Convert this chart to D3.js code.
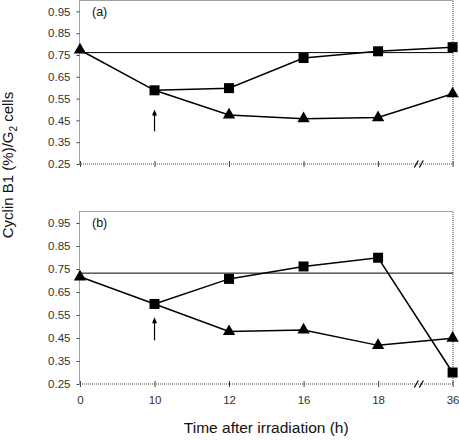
<!DOCTYPE html>
<html><head><meta charset="utf-8">
<script src="https://cdn.jsdelivr.net/npm/d3@7"></script>
<style>body{margin:0;background:#fff}svg{display:block}</style>
</head><body>
<script>
const categories = ["0","10","12","16","18","36"];
const yTicks = [0.25,0.35,0.45,0.55,0.65,0.75,0.85,0.95];
// panel (a)
const aSquare = [null,0.588,0.598,0.736,0.767,0.786];
const aTriangle = [0.773,0.588,0.475,0.458,0.463,0.572];
const aControl = 0.761;
const aArrow = [0.40,0.50];
// panel (b)
const bSquare = [null,0.598,0.707,0.761,0.799,0.300];
const bTriangle = [0.716,0.598,0.478,0.485,0.418,0.449];
const bControl = 0.732;
const bArrow = [0.44,0.54];

const W=459,H=440;
const svg=d3.select("body").append("svg").attr("width",W).attr("height",H);
const font="Liberation Sans, Arial, sans-serif";
const x=d3.scalePoint().domain(categories).range([80,452.6]);
const left=79.5,right=453;

function panel(top,bottom,label,sq,tri,ctrl,arrow,showX){
  const y=d3.scaleLinear().domain([0.25,1.0]).range([bottom,top]);
  const g=svg.append("g");
  g.append("rect").attr("x",left).attr("y",top).attr("width",right-left).attr("height",bottom-top)
    .attr("fill","none").attr("stroke","#444").attr("stroke-width",1).attr("stroke-dasharray","1,1");
  const ya=g.append("g").attr("transform",`translate(${left},0)`)
    .call(d3.axisLeft(y).tickValues(yTicks).tickFormat(d3.format(".2f")).tickSize(3).tickPadding(6));
  ya.select(".domain").remove();
  ya.selectAll("line").attr("stroke","#444");
  ya.selectAll("text").attr("font-family",font).attr("font-size",11.5).attr("fill","#333");
  const xa=g.append("g").attr("transform",`translate(0,${bottom})`)
    .call(d3.axisBottom(x).tickSize(3).tickPadding(9));
  xa.select(".domain").remove();
  xa.selectAll(".tick line").attr("y1",-3).attr("y2",3).attr("stroke","#444");
  xa.selectAll("text").attr("font-family",font).attr("font-size",11.5).attr("fill","#333");
  if(!showX) xa.selectAll("text").remove();
  const bx=(x("18")+x("36"))/2+4;
  [-3,2].forEach(dx=>{
    g.append("line").attr("x1",bx+dx-2).attr("y1",bottom+3.5).attr("x2",bx+dx+2).attr("y2",bottom-3.5)
     .attr("stroke","#000").attr("stroke-width",1.2);
  });
  g.append("line").attr("x1",left).attr("x2",right).attr("y1",y(ctrl)).attr("y2",y(ctrl))
    .attr("stroke","#000").attr("stroke-width",1);
  const line=d3.line().defined(d=>d.v!=null).x(d=>x(d.c)).y(d=>y(d.v));
  const triD=categories.map((c,i)=>({c,v:tri[i],hidden:sq[i]!=null&&sq[i]===tri[i]}));
  const sqD=categories.map((c,i)=>({c,v:sq[i]}));
  g.append("path").datum(triD).attr("d",line).attr("fill","none").attr("stroke","#000").attr("stroke-width",1.5);
  g.append("path").datum(sqD).attr("d",line).attr("fill","none").attr("stroke","#000").attr("stroke-width",1.5);
  const triSym=d3.symbol().type(d3.symbolTriangle).size(66);
  g.selectAll(".tri").data(triD.filter(d=>d.v!=null&&!d.hidden)).join("path")
    .attr("transform",d=>`translate(${x(d.c)},${y(d.v)})`).attr("d",triSym).attr("fill","#000");
  g.selectAll(".sq").data(sqD.filter(d=>d.v!=null)).join("rect")
    .attr("x",d=>x(d.c)-5).attr("y",d=>y(d.v)-5).attr("width",10).attr("height",10).attr("fill","#000");
  const ax=x("10");
  g.append("line").attr("x1",ax).attr("x2",ax).attr("y1",y(arrow[0])).attr("y2",y(arrow[1])+5)
    .attr("stroke","#000").attr("stroke-width",1.2);
  g.append("path").attr("d",`M${ax},${y(arrow[1])} L${ax-2.5},${y(arrow[1])+6} L${ax+2.5},${y(arrow[1])+6} Z`).attr("fill","#000");
  g.append("text").attr("x",92).attr("y",top+15).attr("font-family",font).attr("font-size",12.5).attr("fill","#111").text(label);
}
panel(0.5,164,"(a)",aSquare,aTriangle,aControl,aArrow,false);
panel(211.5,384,"(b)",bSquare,bTriangle,bControl,bArrow,true);

svg.append("text").attr("x",(left+right)/2).attr("y",433).attr("text-anchor","middle")
  .attr("font-family",font).attr("font-size",15.5).attr("fill","#111").text("Time after irradiation (h)");
const yt=svg.append("text").attr("transform","translate(13,165) rotate(-90)").attr("text-anchor","middle")
  .attr("font-family",font).attr("font-size",15).attr("fill","#111");
yt.append("tspan").text("Cyclin B1 (%)/G");
yt.append("tspan").attr("font-size",10).attr("dy",4).text("2");
yt.append("tspan").attr("dy",-4).text(" cells");
</script>
</body></html>
